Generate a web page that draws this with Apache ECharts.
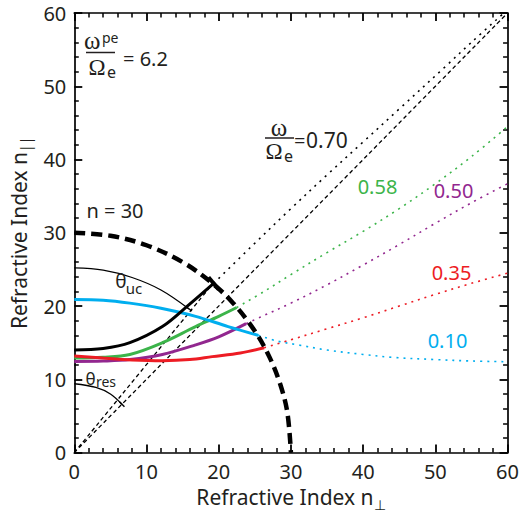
<!DOCTYPE html>
<html>
<head>
<meta charset="utf-8">
<script src="https://cdn.jsdelivr.net/npm/echarts@6/dist/echarts.min.js"></script>
<style>
html,body{margin:0;padding:0;background:#fff;}
#c{width:522px;height:516px;}
</style>
</head>
<body>
<div id="c"></div>
<script>
// ---- data ----
const axisMin = 0, axisMax = 60, axisStep = 10;

const circleN30 = [[0,30],[5,29.6],[10,28.3],[15,26],[19,23.2],[22,20.4],[25,16.6],[27,13.1],[28.5,9.4],[29.5,5.5],[30,0]];
const coneLineA = [[0,0],[19.3,23.2]];
const coneLineB = [[0,0],[60,60]];
const arcUC = [[0,25.2],[4,24.9],[8,23.9],[12,22.2],[15.9,19.6]];
const arcRes = [[0,9.4],[3,8.9],[5,8.0],[6.6,6.6]];

const solid070 = [[0,14.0],[4,14.2],[7.7,15.0],[12.2,17.2],[15.9,20.2],[19.3,23.1]];
const dotted070 = [[19.3,23.1],[24.5,28.1],[30,33.3],[35,37.9],[40,42.4],[45,46.9],[51.4,52.7],[55,56],[59.5,60]];
const solid058 = [[0,12.9],[4,13.0],[7.7,13.4],[12.2,15.0],[16.8,17.2],[20,18.6],[22.5,19.8]];
const dotted058 = [[22.5,19.8],[26.3,22],[30,24.3],[35,27.3],[40,30.2],[45,33.3],[50,36.7],[55,40.4],[60,44.5]];
const solid050 = [[0,12.45],[4,12.5],[7.7,12.7],[12.2,13.4],[16.8,14.7],[20,15.8],[23.8,17.6]];
const dotted050 = [[23.8,17.6],[26,18.6],[30,20.4],[35,22.9],[40,25.6],[45,28.4],[50,31.3],[55,34.1],[60,36.7]];
const solid035 = [[0,13.2],[4,12.9],[8,12.65],[12.2,12.55],[16,12.7],[19.1,13.1],[23,13.6],[26.3,14.3]];
const dotted035 = [[26.3,14.3],[30,15.4],[35,16.9],[40,18.4],[45,20.0],[50,21.6],[55,23.1],[60,24.5]];
const solid010 = [[0,20.9],[4,20.8],[7.7,20.4],[12,19.7],[16.8,18.6],[21.3,17.2],[25.5,16.0]];
const dotted010 = [[25.5,16.0],[28.2,15.2],[31,14.7],[35,14.0],[40,13.4],[44,13.0],[50,12.7],[55,12.5],[60,12.4]];

const freqLabels = ['0.70','0.58','0.50','0.35','0.10'];
const densityLabel = '6.2';
const harmonicLabel = 'n = 30';

// ---- styling ----
const TXT = '#231f20';
const FONT = 'Noto Sans';
const SERIF = 'Liberation Serif';
const C = {k:'#000000', g:'#3cb44a', p:'#92278f', r:'#ed1c24', c:'#00aeef'};
const DOT = [2,5];

const chart = echarts.init(document.getElementById('c'), null, {renderer:'svg'});

function axisCommon(pos, showLabel){
  return {
    type:'value', min:axisMin, max:axisMax, interval:axisStep, position:pos,
    axisLine:{show:true, onZero:false, lineStyle:{color:'#000', width:1.7}},
    axisTick:{show:true, inside:true, length:8, lineStyle:{color:'#000', width:1.8}},
    minorTick:{show:true, splitNumber:5, length:4.5, lineStyle:{color:'#000', width:1.5}},
    splitLine:{show:false},
    axisLabel:{show:showLabel, fontFamily:FONT, fontSize:20, color:TXT},
  };
}

function ln(data, color, width, type, z, extra){
  return Object.assign({
    type:'line', data:data, showSymbol:false, symbol:'none', smooth:0.35, silent:true,
    lineStyle:{color:color, width:width, type:type, cap:'butt'}, z:z, animation:false
  }, extra||{});
}

function endBar(data, size, rot){
  const d = data.slice(0,-1).map(p=>({value:p, symbol:'none'}));
  const last = data[data.length-1];
  d.push({value:last, symbol:'rect', symbolSize:size, symbolRotate:rot, itemStyle:{color:'#000'}});
  return d;
}

const nameRich = {
  a:{fontFamily:FONT, fontSize:21, color:TXT, lineHeight:28, verticalAlign:'middle'},
  s:{fontFamily:FONT, fontSize:14, color:TXT, lineHeight:28, verticalAlign:'bottom'}
};
const xb = axisCommon('bottom', true);
xb.axisLabel.margin = 9;
xb.name = '{a|Refractive Index n}{s|⊥}';
xb.nameLocation = 'middle';
xb.nameGap = 28;
xb.nameTextStyle = {color:TXT, rich:nameRich};
const xt = axisCommon('top', false);
const yl = axisCommon('left', true);
yl.axisLabel.margin = 8;
yl.name = '{a|Refractive Index n}{s|||}';
yl.nameLocation = 'middle';
yl.nameGap = 30;
yl.nameTextStyle = {color:TXT, rich:nameRich};
const yr = axisCommon('right', false);

const series = [
  ln(coneLineB, C.k, 1.3, [4,3], 3),
  ln(coneLineA, C.k, 1.3, [4,3], 3),
  ln(dotted070, C.k, 1.6, DOT, 3),
  ln(dotted058, C.g, 1.6, DOT, 3),
  ln(dotted050, C.p, 1.6, DOT, 3),
  ln(dotted035, C.r, 1.6, DOT, 3),
  ln(dotted010, C.c, 1.6, DOT, 3),
  ln(solid050, C.p, 3, 'solid', 4),
  ln(solid058, C.g, 3, 'solid', 5),
  ln(solid035, C.r, 3, 'solid', 6),
  ln(solid010, C.c, 3, 'solid', 6),
  ln(endBar(solid070, [16,4], -50), C.k, 3, 'solid', 7, {showSymbol:true}),
  ln(endBar(arcUC, [7,1.4], -35), C.k, 1.3, 'solid', 7, {showSymbol:true}),
  ln(endBar(arcRes, [7,1.4], -45), C.k, 1.3, 'solid', 7, {showSymbol:true}),
  ln(circleN30, C.k, 4.5, [11,6], 8),
];

function t(text, x, y, size, color, family, align){
  return {type:'text', x:x, y:y, z:100, silent:true,
    style:{text:text, fontFamily:family||FONT, fontSize:size, fill:color||TXT, align:align||'center', verticalAlign:'middle'}};
}
function bar(x1, x2, y){
  return {type:'line', z:100, silent:true, shape:{x1:x1, y1:y, x2:x2, y2:y}, style:{stroke:TXT, lineWidth:1.5}};
}

const graphics = [
  // omega_pe / Omega_e = 6.2
  t('ω', 84, 40, 25, TXT, SERIF, 'left'),
  t('pe', 102, 37, 14, TXT, FONT, 'left'),
  bar(86, 115, 52.5),
  t('Ω', 97, 67, 23, TXT, SERIF),
  t('e', 111.5, 72, 16),
  t('= ' + densityLabel, 123, 58.5, 20, TXT, FONT, 'left'),
  // omega / Omega_e = 0.70
  t('ω', 279, 127, 25, TXT, SERIF),
  bar(265, 294, 138),
  t('Ω', 274, 151, 23, TXT, SERIF),
  t('e', 288.5, 156, 16),
  t('=', 294, 140, 20, TXT, FONT, 'left'),
  t(freqLabels[0], 306, 140, 21, TXT, FONT, 'left'),
  // frequency labels
  t(freqLabels[1], 377.5, 186, 20, C.g),
  t(freqLabels[2], 453.5, 190, 20, C.p),
  t(freqLabels[3], 451.5, 272.5, 20, C.r),
  t(freqLabels[4], 447.5, 340, 20, C.c),
  // n = 30
  t(harmonicLabel, 115, 210, 20),
  // theta labels
  t('θ', 121, 281, 19),
  t('uc', 134, 288, 15),
  t('θ', 90.5, 378.5, 17),
  t('res', 106, 381, 14),
];

chart.setOption({
  animation:false,
  backgroundColor:'#fff',
  grid:{left:70.5, right:12, top:13, bottom:63, containLabel:false},
  xAxis:[xb, xt],
  yAxis:[yl, yr],
  series:series,
  graphic:graphics
});
</script>
</body>
</html>
